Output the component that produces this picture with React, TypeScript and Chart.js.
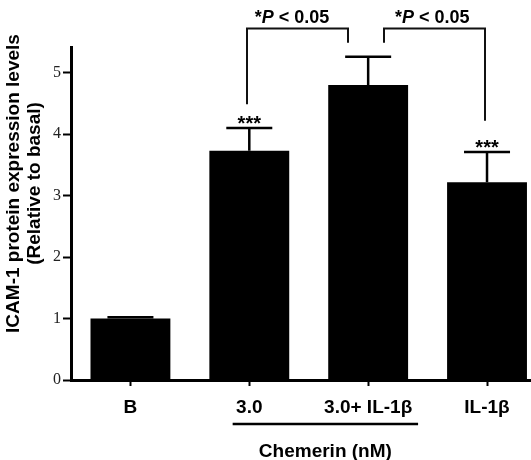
import { useEffect, useRef } from 'react';
import { Chart, registerables } from 'chart.js';

Chart.register(...registerables);

const categories = ['B', '3.0', '3.0+ IL-1β', 'IL-1β'];
const meanValues = [1.0, 3.73, 4.8, 3.22];
const errorValues = [0.02, 0.37, 0.46, 0.49];
const starLabels = ['', '***', '', '***'];
const yTickValues = [0, 1, 2, 3, 4, 5];
const bracketStarts = [0.98, 2.13];
const bracketEnds = [1.83, 2.98];
const bracketStartLegs = [4.49, 5.49];
const bracketEndLegs = [5.49, 4.22];
const bracketTop = 5.72;
const pLabelCenters = [1.36, 2.54];
const pLabelParts = [['*', 'P', ' < 0.05'], ['*', 'P', ' < 0.05']];
const groupSpan = [0.86, 2.42];
const groupLabel = 'Chemerin (nM)';
const yTitleLines = ['ICAM-1 protein expression levels', '(Relative to basal)'];

const SANS = '"Liberation Sans", Arial, sans-serif';
const SERIF = '"Liberation Serif", "Times New Roman", serif';

const annotationPlugin = {
  id: 'annotationPlugin',
  afterDatasetsDraw(chart: any) {
    const ctx = chart.ctx;
    const ys = chart.scales.y;
    const meta = chart.getDatasetMeta(0);
    ctx.save();
    ctx.strokeStyle = '#000';
    ctx.fillStyle = '#000';
    ctx.lineWidth = 2.5;
    ctx.lineCap = 'butt';
    meta.data.forEach((bar: any, i: number) => {
      const base = ys.getPixelForValue(meanValues[i]);
      const top = ys.getPixelForValue(meanValues[i] + errorValues[i]);
      ctx.beginPath();
      ctx.moveTo(bar.x, base);
      ctx.lineTo(bar.x, top);
      ctx.moveTo(bar.x - 23, top);
      ctx.lineTo(bar.x + 23, top);
      ctx.stroke();
      if (starLabels[i]) {
        ctx.font = `bold 20px ${SANS}`;
        ctx.textAlign = 'center';
        ctx.textBaseline = 'alphabetic';
        ctx.fillText(starLabels[i], bar.x, top + 2);
      }
    });
    ctx.restore();
  },
  afterDraw(chart: any) {
    const ctx = chart.ctx;
    const xs = chart.scales.x;
    const ys = chart.scales.y;
    ctx.save();
    ctx.strokeStyle = '#111';
    ctx.fillStyle = '#000';
    ctx.lineWidth = 2;
    bracketStarts.forEach((s, i) => {
      const x1 = Math.round(xs.getPixelForValue(s));
      const x2 = Math.round(xs.getPixelForValue(bracketEnds[i]));
      const yt = ys.getPixelForValue(bracketTop);
      ctx.beginPath();
      ctx.moveTo(x1, ys.getPixelForValue(bracketStartLegs[i]));
      ctx.lineTo(x1, yt);
      ctx.lineTo(x2, yt);
      ctx.lineTo(x2, ys.getPixelForValue(bracketEndLegs[i]));
      ctx.stroke();
      const parts = pLabelParts[i];
      const fonts = [`bold 18px ${SANS}`, `italic bold 18px ${SANS}`, `bold 18px ${SANS}`];
      let total = 0;
      const widths = parts.map((p, k) => {
        ctx.font = fonts[k];
        const w = ctx.measureText(p).width;
        total += w;
        return w;
      });
      let cx = xs.getPixelForValue(pLabelCenters[i]) - total / 2;
      ctx.textAlign = 'left';
      ctx.textBaseline = 'alphabetic';
      parts.forEach((p, k) => {
        ctx.font = fonts[k];
        ctx.fillText(p, cx, 23);
        cx += widths[k];
      });
    });
    const gx1 = xs.getPixelForValue(groupSpan[0]);
    const gx2 = xs.getPixelForValue(groupSpan[1]);
    ctx.strokeStyle = '#000';
    ctx.lineWidth = 2.5;
    ctx.beginPath();
    ctx.moveTo(gx1, 424);
    ctx.lineTo(gx2, 424);
    ctx.stroke();
    ctx.font = `bold 19px ${SANS}`;
    ctx.textAlign = 'center';
    ctx.textBaseline = 'alphabetic';
    ctx.fillText(groupLabel, (gx1 + gx2) / 2, 457);
    const titleCenterY = 183.5;
    [18.5, 39.5].forEach((bx, k) => {
      ctx.save();
      ctx.font = `bold 19px ${SANS}`;
      ctx.textAlign = 'center';
      ctx.textBaseline = 'alphabetic';
      ctx.translate(bx, titleCenterY);
      ctx.rotate(-Math.PI / 2);
      ctx.fillText(yTitleLines[k], 0, 0);
      ctx.restore();
    });
    ctx.restore();
  },
};

export default function App() {
  const canvasRef = useRef<HTMLCanvasElement | null>(null);

  useEffect(() => {
    const canvas = canvasRef.current;
    if (!canvas) return;
    const chart = new Chart(canvas, {
      type: 'bar',
      data: {
        datasets: [
          {
            data: meanValues.map((v, i) => ({ x: i, y: v })),
            backgroundColor: '#000',
            borderWidth: 0,
            barPercentage: 0.672,
            categoryPercentage: 1,
          },
        ],
      },
      options: {
        animation: false,
        responsive: false,
        devicePixelRatio: 1,
        layout: { padding: { top: 47, left: 0, right: 0, bottom: 0 } },
        plugins: {
          legend: { display: false },
          tooltip: { enabled: false },
        },
        scales: {
          x: {
            type: 'linear',
            min: -0.5,
            max: 3.37,
            offset: false,
            afterFit: (scale: any) => {
              scale.height = 80;
            },
            afterBuildTicks: (scale: any) => {
              scale.ticks = categories.map((_, i) => ({ value: i }));
            },
            grid: {
              display: true,
              offset: false,
              drawOnChartArea: false,
              drawTicks: true,
              tickLength: 6,
              tickWidth: 2,
              tickColor: '#000',
            },
            border: { display: true, color: '#000', width: 3 },
            ticks: {
              autoSkip: false,
              maxRotation: 0,
              padding: 10,
              color: '#000',
              font: { family: SANS, size: 19, weight: 'bold' },
              callback: (value: any) => categories[Math.round(Number(value))] ?? '',
            },
          },
          y: {
            type: 'linear',
            min: 0,
            max: 5.42,
            afterFit: (scale: any) => {
              scale.width = 71;
            },
            afterBuildTicks: (scale: any) => {
              scale.ticks = yTickValues.map((v) => ({ value: v }));
            },
            grid: {
              display: true,
              drawOnChartArea: false,
              drawTicks: true,
              tickLength: 8,
              tickWidth: 2,
              tickColor: '#000',
            },
            border: { display: true, color: '#000', width: 3 },
            ticks: {
              padding: 2,
              color: '#222',
              font: { family: SERIF, size: 16 },
              callback: (value: any) => String(value),
            },
          },
        },
      },
      plugins: [annotationPlugin],
    });
    return () => chart.destroy();
  }, []);

  return (
    <div style={{ position: 'fixed', left: 0, top: 0, width: 531, height: 460, background: '#fff' }}>
      <canvas ref={canvasRef} width={531} height={460} style={{ display: 'block' }} />
    </div>
  );
}
